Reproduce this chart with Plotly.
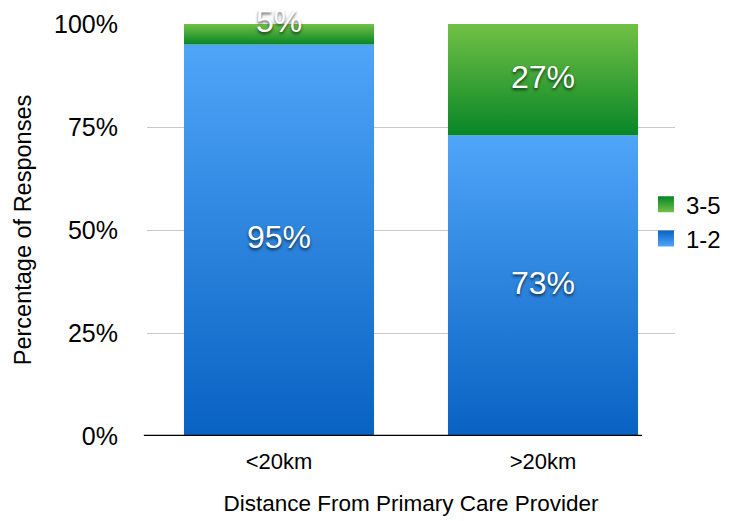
import plotly.graph_objects as go

# Survey data: share of responses by distance band
categories = ["<20km", ">20km"]
share_1_2 = [95, 73]
share_3_5 = [5, 27]
y_tick_values = [0, 25, 50, 75, 100]
y_tick_labels = ["0%", "25%", "50%", "75%", "100%"]

FONT = "Liberation Sans, Arial, Helvetica, sans-serif"
BAR_WIDTH = 0.72
SMALL_SEGMENT = 8  # segments thinner than this get their label at the top edge

# top/bottom colours of each series' vertical gradient
styles = {
    "1-2": {"top": "#4FA5F8", "bottom": "#0862C2"},
    "3-5": {"top": "#72C045", "bottom": "#078627"},
}
series = [("1-2", share_1_2), ("3-5", share_3_5)]

fig = go.Figure()
base = [0] * len(categories)
for name, values in series:
    st = styles[name]
    label_x, label_y, label_text = [], [], []
    for i, v in enumerate(values):
        x0, x1 = i - BAR_WIDTH / 2, i + BAR_WIDTH / 2
        y0, y1 = base[i], base[i] + v
        fig.add_trace(go.Scatter(
            x=[x0, x1, x1, x0, x0], y=[y0, y0, y1, y1, y0],
            mode="none", fill="toself",
            fillgradient=dict(type="vertical",
                              colorscale=[[0, st["bottom"]], [1, st["top"]]]),
            showlegend=False, hoverinfo="skip",
        ))
        label_x.append(i)
        label_y.append(y1 if v < SMALL_SEGMENT else (y0 + y1) / 2)
        label_text.append(f"{v}%")
        base[i] = y1
    # segment value labels
    fig.add_trace(go.Scatter(
        x=label_x, y=label_y, text=label_text, mode="text",
        textposition="middle center",
        textfont=dict(family=FONT, size=32, color="white",
                      shadow="0px 2px 3px rgba(0,0,0,0.65)"),
        showlegend=False, hoverinfo="skip", cliponaxis=False,
    ))
    # legend key for the series
    fig.add_trace(go.Scatter(
        x=[None], y=[None], mode="markers", name=name,
        marker=dict(symbol="square", size=16, color=st["bottom"],
                    gradient=dict(type="vertical", color=st["top"]),
                    line=dict(width=0)),
    ))

fig.update_layout(
    width=730, height=521,
    margin=dict(l=147, r=55, t=23.5, b=85, autoexpand=False),
    paper_bgcolor="white", plot_bgcolor="white",
    font=dict(family=FONT, size=23, color="black"),
    showlegend=True,
    legend=dict(x=0.945, y=0.52, xanchor="left", yanchor="middle",
                traceorder="reversed", bgcolor="rgba(0,0,0,0)",
                font=dict(family=FONT, size=24)),
    xaxis=dict(
        range=[-0.5, 1.5], tickvals=list(range(len(categories))),
        ticktext=categories, showgrid=False, zeroline=False, showline=False,
        ticks="", ticklabelstandoff=10, tickfont=dict(size=22),
        title=dict(text="Distance From Primary Care Provider",
                   font=dict(size=22.5), standoff=22),
        fixedrange=True,
    ),
    yaxis=dict(
        range=[0, 100], tickvals=y_tick_values, ticktext=y_tick_labels,
        showgrid=True, gridcolor="#c8c8c8", gridwidth=1,
        zeroline=False, showline=False, ticks="", ticklabelstandoff=28,
        tickfont=dict(size=25),
        title=dict(text="Percentage of Responses", font=dict(size=23.5),
                   standoff=15),
        fixedrange=True,
    ),
    shapes=[dict(type="line", xref="paper", yref="y", x0=-0.006, x1=0.9375,
                 y0=0, y1=0, line=dict(color="black", width=2.5), layer="above")],
)

fig.write_html("out.html")
